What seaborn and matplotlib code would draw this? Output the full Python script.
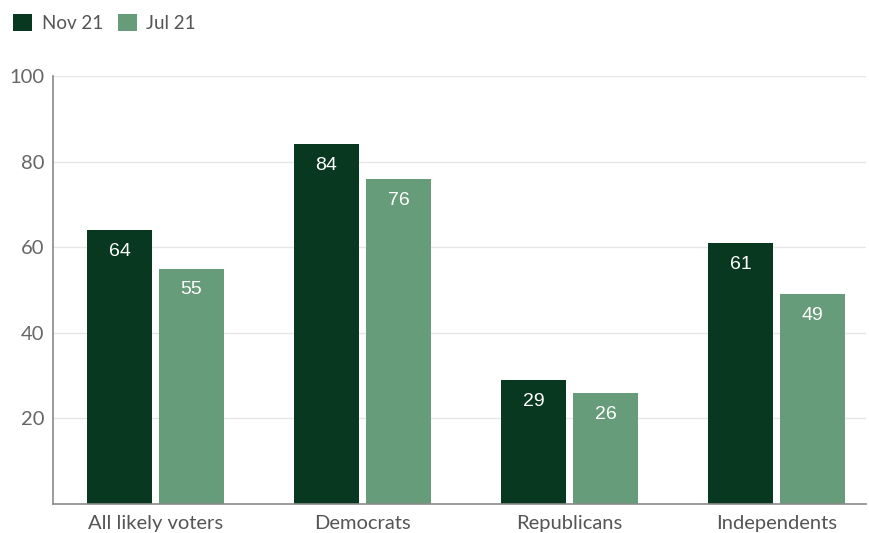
import matplotlib
matplotlib.use("Agg")
import matplotlib.pyplot as plt
import seaborn as sns
import pandas as pd
from matplotlib.patches import Patch

categories = ["All likely voters", "Democrats", "Republicans", "Independents"]
series = ["Nov 21", "Jul 21"]
nov21 = [64, 84, 29, 61]
jul21 = [55, 76, 26, 49]
yticks = [20, 40, 60, 80, 100]
colors = ["#08381f", "#669c7a"]

df = pd.DataFrame({
    "category": categories * 2,
    "series": [series[0]] * 4 + [series[1]] * 4,
    "value": nov21 + jul21,
})

sns.set_theme(style="white")
plt.rcParams["font.family"] = ["Lato", "DejaVu Sans"]

fig = plt.figure(figsize=(8.7, 5.33), dpi=100)
ax = fig.add_axes([53/870, 29/533, 813/870, 428/533])

sns.barplot(data=df, x="category", y="value", hue="series", palette=colors,
            width=0.696, gap=0.097, ax=ax, legend=False, saturation=1,
            linewidth=0, edgecolor="none")

for cont in ax.containers:
    for bar in cont:
        h = bar.get_height()
        ax.text(bar.get_x() + bar.get_width() / 2, h - 3.0, f"{int(round(h))}",
                ha="center", va="top", color="white", fontsize=14,
                family=["Liberation Sans", "DejaVu Sans"])

ax.set_ylim(0, 100)
ax.set_xlim(-0.495, 3.432)
ax.set_yticks(yticks)
ax.set_yticklabels([str(t) for t in yticks])
ax.yaxis.grid(True, color="#e6e6e6", linewidth=1)
ax.set_axisbelow(True)
ax.set_xlabel("")
ax.set_ylabel("")
for s in ["top", "right"]:
    ax.spines[s].set_visible(False)
ax.spines["left"].set_color("#8a8a8a")
ax.spines["bottom"].set_color("#8a8a8a")
ax.spines["left"].set_linewidth(1.2)
ax.spines["bottom"].set_linewidth(1.2)
ax.tick_params(axis="y", length=0, labelsize=14.5, labelcolor="#666666", pad=6)
ax.tick_params(axis="x", length=0, labelsize=14.5, labelcolor="#555555", pad=8)

handles = [Patch(facecolor=c, edgecolor="none") for c in colors]
fig.legend(handles, series, loc="upper left", bbox_to_anchor=(-0.004, 1.005),
           ncol=2, frameon=False, fontsize=13.5, handlelength=1.0, handleheight=1.0,
           handletextpad=0.5, columnspacing=0.8, labelcolor="#555555")

fig.savefig("out.png", dpi=100)
